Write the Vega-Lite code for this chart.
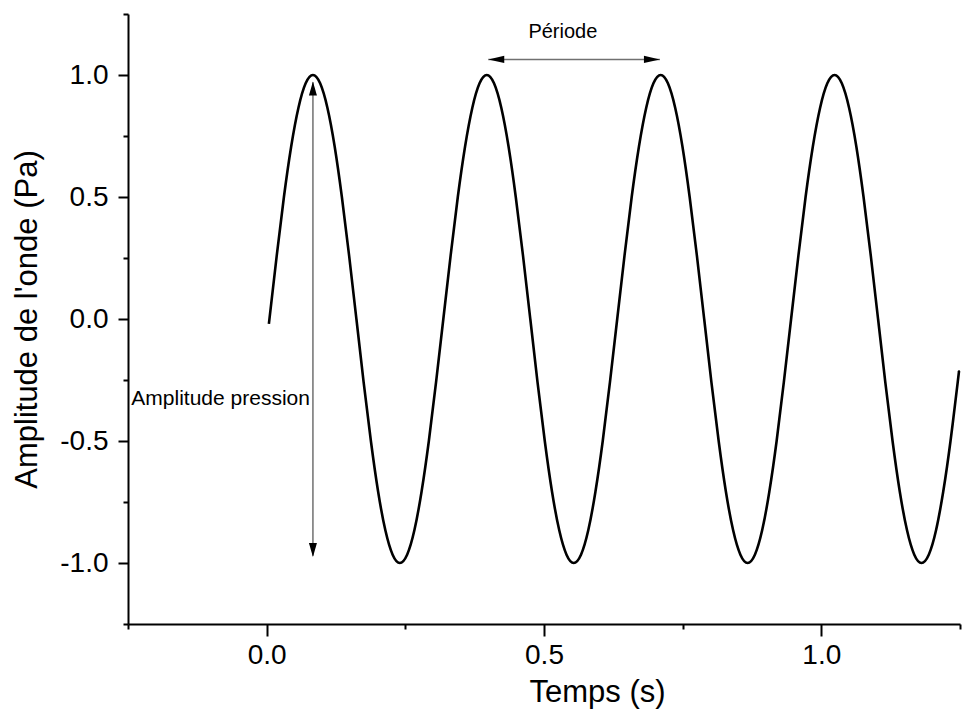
{
  "$schema": "https://vega.github.io/schema/vega-lite/v6.json",
  "width": 832,
  "height": 610,
  "autosize": {"type": "none"},
  "padding": {"left": 128, "top": 14, "right": 15, "bottom": 90},
  "background": "white",
  "config": {
    "view": {"stroke": null},
    "font": "Liberation Sans",
    "axis": {
      "domainColor": "black",
      "domainWidth": 2,
      "tickColor": "black",
      "tickWidth": 2,
      "labelColor": "black",
      "labelFont": "Liberation Sans",
      "labelFontSize": 28,
      "titleFont": "Liberation Sans",
      "titleFontSize": 31,
      "titleFontWeight": "normal",
      "titleColor": "black",
      "grid": false
    }
  },
  "datasets": {
    "wave": [
      {"t": 0.004, "p": -0.02}, {"t": 0.0181, "p": 0.259}, {"t": 0.0311, "p": 0.5}, {"t": 0.0442, "p": 0.707}, {"t": 0.0573, "p": 0.866}, {"t": 0.0703, "p": 0.966}, {"t": 0.0834, "p": 1}, {"t": 0.0964, "p": 0.966}, {"t": 0.1095, "p": 0.866}, {"t": 0.1226, "p": 0.707}, {"t": 0.1356, "p": 0.5}, {"t": 0.1487, "p": 0.259},
      {"t": 0.1618, "p": 0}, {"t": 0.1748, "p": -0.259}, {"t": 0.1879, "p": -0.5}, {"t": 0.2009, "p": -0.707}, {"t": 0.214, "p": -0.866}, {"t": 0.2271, "p": -0.966}, {"t": 0.2401, "p": -1}, {"t": 0.2532, "p": -0.966}, {"t": 0.2663, "p": -0.866}, {"t": 0.2793, "p": -0.707}, {"t": 0.2924, "p": -0.5}, {"t": 0.3054, "p": -0.259},
      {"t": 0.3185, "p": 0}, {"t": 0.3316, "p": 0.259}, {"t": 0.3446, "p": 0.5}, {"t": 0.3577, "p": 0.707}, {"t": 0.3708, "p": 0.866}, {"t": 0.3838, "p": 0.966}, {"t": 0.3969, "p": 1}, {"t": 0.4099, "p": 0.966}, {"t": 0.423, "p": 0.866}, {"t": 0.4361, "p": 0.707}, {"t": 0.4491, "p": 0.5}, {"t": 0.4622, "p": 0.259},
      {"t": 0.4753, "p": 0}, {"t": 0.4883, "p": -0.259}, {"t": 0.5014, "p": -0.5}, {"t": 0.5144, "p": -0.707}, {"t": 0.5275, "p": -0.866}, {"t": 0.5406, "p": -0.966}, {"t": 0.5536, "p": -1}, {"t": 0.5667, "p": -0.966}, {"t": 0.5798, "p": -0.866}, {"t": 0.5928, "p": -0.707}, {"t": 0.6059, "p": -0.5}, {"t": 0.6189, "p": -0.259},
      {"t": 0.632, "p": 0}, {"t": 0.6451, "p": 0.259}, {"t": 0.6581, "p": 0.5}, {"t": 0.6712, "p": 0.707}, {"t": 0.6843, "p": 0.866}, {"t": 0.6973, "p": 0.966}, {"t": 0.7104, "p": 1}, {"t": 0.7234, "p": 0.966}, {"t": 0.7365, "p": 0.866}, {"t": 0.7496, "p": 0.707}, {"t": 0.7626, "p": 0.5}, {"t": 0.7757, "p": 0.259},
      {"t": 0.7888, "p": 0}, {"t": 0.8018, "p": -0.259}, {"t": 0.8149, "p": -0.5}, {"t": 0.8279, "p": -0.707}, {"t": 0.841, "p": -0.866}, {"t": 0.8541, "p": -0.966}, {"t": 0.8671, "p": -1}, {"t": 0.8802, "p": -0.966}, {"t": 0.8933, "p": -0.866}, {"t": 0.9063, "p": -0.707}, {"t": 0.9194, "p": -0.5}, {"t": 0.9324, "p": -0.259},
      {"t": 0.9455, "p": 0}, {"t": 0.9586, "p": 0.259}, {"t": 0.9716, "p": 0.5}, {"t": 0.9847, "p": 0.707}, {"t": 0.9978, "p": 0.866}, {"t": 1.0108, "p": 0.966}, {"t": 1.0239, "p": 1}, {"t": 1.0369, "p": 0.966}, {"t": 1.05, "p": 0.866}, {"t": 1.0631, "p": 0.707}, {"t": 1.0761, "p": 0.5}, {"t": 1.0892, "p": 0.259},
      {"t": 1.1023, "p": 0}, {"t": 1.1153, "p": -0.259}, {"t": 1.1284, "p": -0.5}, {"t": 1.1414, "p": -0.707}, {"t": 1.1545, "p": -0.866}, {"t": 1.1676, "p": -0.966}, {"t": 1.1806, "p": -1}, {"t": 1.1937, "p": -0.966}, {"t": 1.2068, "p": -0.866}, {"t": 1.2198, "p": -0.707}, {"t": 1.2329, "p": -0.5}, {"t": 1.2459, "p": -0.259},
      {"t": 1.248, "p": -0.218}
    ],
    "vArrow": [{"t": 0.0834, "top": 0.97, "bottom": -0.97}],
    "hArrow": [{"left": 0.3995, "right": 0.709, "p": 1.064}],
    "heads": [
      {"t": 0.0834, "p": 0.973, "dir": "up"},
      {"t": 0.0834, "p": -0.975, "dir": "down"},
      {"t": 0.3995, "p": 1.064, "dir": "left"},
      {"t": 0.709, "p": 1.064, "dir": "right"}
    ],
    "labelCenter": [{"t": 0.534, "p": 1.177, "text": "Période"}],
    "labelRight": [{"t": 0.078, "p": -0.328, "text": "Amplitude pression"}]
  },
  "layer": [
    {
      "mark": {"type": "rule", "color": "#555555", "strokeWidth": 1, "strokeDash": [5, 4]},
      "encoding": {"y": {"datum": 0, "type": "quantitative", "scale": {"domain": [-1.25, 1.25], "nice": false, "zero": false}}}
    },
    {
      "data": {"name": "wave"},
      "mark": {"type": "line", "color": "black", "strokeWidth": 2.6, "interpolate": "natural"},
      "encoding": {
        "x": {
          "field": "t", "type": "quantitative",
          "scale": {"domain": [-0.25, 1.25], "nice": false, "zero": false},
          "axis": {
            "title": "Temps (s)",
            "values": [-0.25, 0, 0.25, 0.5, 0.75, 1, 1.25],
            "tickSize": {"condition": {"test": "abs(datum.value*2 - round(datum.value*2)) < 0.001", "value": 12}, "value": 5},
            "labelExpr": "abs(datum.value*2 - round(datum.value*2)) < 0.001 ? (datum.value < 0 ? '-' + format(-datum.value, '.1f') : format(datum.value, '.1f')) : ''",
            "labelPadding": 5,
            "labelFlush": false,
            "labelOverlap": false,
            "titlePadding": 8,
            "titleX": 469,
            "titleAlign": "center"
          }
        },
        "y": {
          "field": "p", "type": "quantitative",
          "scale": {"domain": [-1.25, 1.25], "nice": false, "zero": false},
          "axis": {
            "title": "Amplitude de l'onde (Pa)",
            "values": [-1.25, -1, -0.75, -0.5, -0.25, 0, 0.25, 0.5, 0.75, 1, 1.25],
            "tickSize": {"condition": {"test": "abs(datum.value*2 - round(datum.value*2)) < 0.001", "value": 10}, "value": 5},
            "labelExpr": "abs(datum.value*2 - round(datum.value*2)) < 0.001 ? (datum.value < 0 ? '-' + format(-datum.value, '.1f') : format(datum.value, '.1f')) : ''",
            "labelPadding": 10,
            "labelFlush": false,
            "labelOverlap": false,
            "titlePadding": 16
          }
        }
      }
    },
    {
      "data": {"name": "vArrow"},
      "mark": {"type": "rule", "color": "#707070", "strokeWidth": 1.5},
      "encoding": {
        "x": {"field": "t", "type": "quantitative"},
        "y": {"field": "top", "type": "quantitative"},
        "y2": {"field": "bottom"}
      }
    },
    {
      "data": {"name": "hArrow"},
      "mark": {"type": "rule", "color": "#707070", "strokeWidth": 1.5},
      "encoding": {
        "x": {"field": "left", "type": "quantitative"},
        "x2": {"field": "right"},
        "y": {"field": "p", "type": "quantitative"}
      }
    },
    {
      "data": {"name": "heads"},
      "mark": {"type": "point", "filled": true, "color": "black", "opacity": 1, "size": 64, "strokeWidth": 0},
      "encoding": {
        "x": {"field": "t", "type": "quantitative"},
        "y": {"field": "p", "type": "quantitative"},
        "shape": {
          "field": "dir", "type": "nominal", "legend": null,
          "scale": {
            "domain": ["up", "down", "left", "right"],
            "range": ["M0,0L-1,3.5L1,3.5Z", "M0,0L-1,-3.5L1,-3.5Z", "M0,0L4,-0.9L4,0.9Z", "M0,0L-4,-0.9L-4,0.9Z"]
          }
        }
      }
    },
    {
      "data": {"name": "labelCenter"},
      "mark": {"type": "text", "font": "Liberation Sans", "fontSize": 20, "color": "black", "baseline": "middle", "align": "center"},
      "encoding": {
        "x": {"field": "t", "type": "quantitative"},
        "y": {"field": "p", "type": "quantitative"},
        "text": {"field": "text"}
      }
    },
    {
      "data": {"name": "labelRight"},
      "mark": {"type": "text", "font": "Liberation Sans", "fontSize": 21, "color": "black", "baseline": "middle", "align": "right"},
      "encoding": {
        "x": {"field": "t", "type": "quantitative"},
        "y": {"field": "p", "type": "quantitative"},
        "text": {"field": "text"}
      }
    }
  ]
}
